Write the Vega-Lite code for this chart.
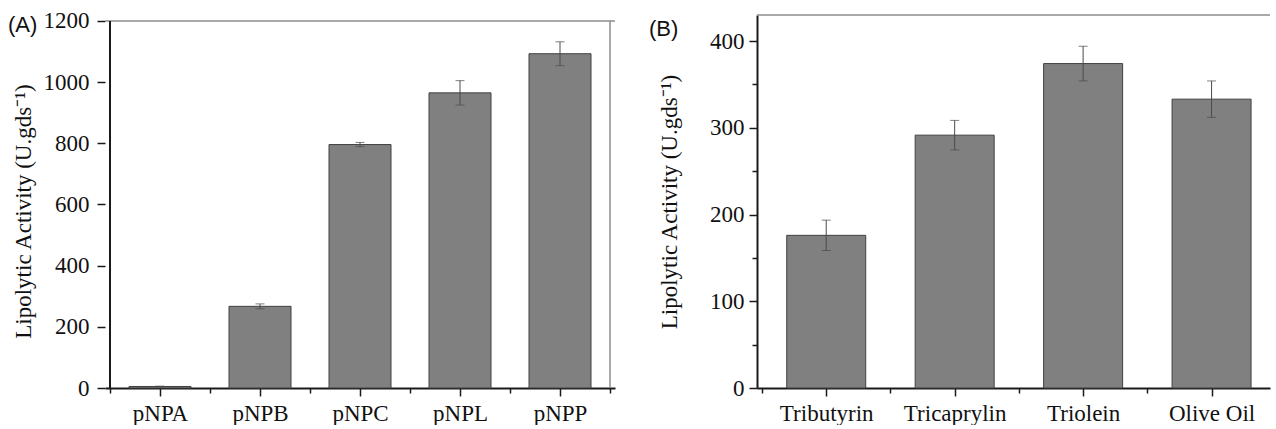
{
  "$schema": "https://vega.github.io/schema/vega-lite/v6.json",
  "background": "white",
  "padding": {"left": 8, "top": 9, "right": 0, "bottom": 0},
  "config": {
    "font": "Liberation Serif",
    "view": {"stroke": null},
    "style": {"guide-label": {"font": "Liberation Serif"}, "guide-title": {"font": "Liberation Serif"}},
    "axis": {
      "grid": false,
      "labelFont": "Liberation Serif",
      "labelFontSize": 23,
      "labelColor": "#111111",
      "titleFont": "Liberation Serif",
      "titleFontSize": 23,
      "titleFontWeight": "normal",
      "titleColor": "#111111",
      "domainColor": "#1a1a1a",
      "domainWidth": 2,
      "tickColor": "#1a1a1a",
      "tickWidth": 1.5
    }
  },
  "spacing": 142,
  "bounds": "flush",
  "hconcat": [
    {
      "width": 510,
      "height": 373,
      "title": {"text": "(A)", "anchor": "start", "frame": "group", "font": "Liberation Sans", "fontSize": 22, "fontWeight": "normal", "color": "#111111", "baseline": "middle", "offset": 0, "dx": -97, "dy": 37},
      "data": {"values": [
        {"substrate": "pNPA", "activity": 5, "err": 1},
        {"substrate": "pNPB", "activity": 267, "err": 8},
        {"substrate": "pNPC", "activity": 796, "err": 7},
        {"substrate": "pNPL", "activity": 965, "err": 40},
        {"substrate": "pNPP", "activity": 1093, "err": 39}
      ]},
      "transform": [{"window": [{"op": "row_number", "as": "idx"}]}],
      "layer": [
        {
          "mark": {"type": "bar", "orient": "vertical", "size": 62, "fill": "#808080", "stroke": "#404040", "strokeWidth": 1},
          "encoding": {
            "x": {"field": "idx", "type": "quantitative",
              "scale": {"domain": [0.5, 5.5], "nice": false, "zero": false},
              "axis": {"title": null, "values": [0.5, 1, 1.5, 2, 2.5, 3, 3.5, 4, 4.5, 5, 5.5],
                "labelExpr": "datum.value % 1 == 0 ? ['', 'pNPA', 'pNPB', 'pNPC', 'pNPL', 'pNPP'][datum.value] : ''",
                "labelFont": "Liberation Serif", "labelFontSize": 23,
                "tickSize": {"condition": {"test": "datum.value % 1 == 0", "value": 8}, "value": 5},
                "labelPadding": 6}},
            "y": {"field": "activity", "type": "quantitative", "title": "Lipolytic Activity (U.gds⁻¹)",
              "scale": {"domain": [0, 1219.6], "nice": false},
              "axis": {"domain": false,
                "values": [0, 100, 200, 300, 400, 500, 600, 700, 800, 900, 1000, 1100, 1200],
                "labelExpr": "datum.value % 200 == 0 ? datum.label : ''",
                "labelFont": "Liberation Serif", "labelFontSize": 23,
                "format": "d",
                "tickSize": {"condition": {"test": "datum.value % 200 == 0", "value": 8}, "value": 5},
                "labelPadding": 8, "titlePadding": 8, "titleY": 196}}
          }
        },
        {
          "mark": {"type": "errorbar", "color": "#4a4a4a", "ticks": {"size": 9, "color": "#4a4a4a"}},
          "encoding": {
            "x": {"field": "idx", "type": "quantitative"},
            "y": {"field": "activity", "type": "quantitative", "title": "Lipolytic Activity (U.gds⁻¹)"},
            "yError": {"field": "err"}
          }
        },
        {
          "data": {"values": [{}]},
          "mark": {"type": "rule", "color": "#8c8c8c", "strokeWidth": 1.5},
          "encoding": {"y": {"datum": 1200}}
        },
        {
          "data": {"values": [{}]},
          "mark": {"type": "rule", "color": "#8c8c8c", "strokeWidth": 1.5},
          "encoding": {"x": {"datum": 5.5}, "y": {"datum": 0}, "y2": {"datum": 1200}}
        },
        {
          "data": {"values": [{}]},
          "mark": {"type": "rule", "color": "#1a1a1a", "strokeWidth": 2},
          "encoding": {"x": {"datum": 0.5}, "y": {"datum": 0}, "y2": {"datum": 1200}}
        }
      ]
    },
    {
      "width": 513,
      "height": 373,
      "title": {"text": "(B)", "anchor": "start", "frame": "group", "font": "Liberation Sans", "fontSize": 22, "fontWeight": "normal", "color": "#111111", "baseline": "middle", "offset": 0, "dx": -108, "dy": 37},
      "data": {"values": [
        {"substrate": "Tributyrin", "activity": 176, "err": 17.5},
        {"substrate": "Tricaprylin", "activity": 291.5, "err": 17},
        {"substrate": "Triolein", "activity": 374, "err": 20},
        {"substrate": "Olive Oil", "activity": 333, "err": 21}
      ]},
      "transform": [{"window": [{"op": "row_number", "as": "idx"}]}],
      "layer": [
        {
          "mark": {"type": "bar", "orient": "vertical", "size": 79, "fill": "#808080", "stroke": "#404040", "strokeWidth": 1},
          "encoding": {
            "x": {"field": "idx", "type": "quantitative",
              "scale": {"domain": [0.5, 4.416], "nice": false, "zero": false},
              "axis": {"title": null, "values": [0.5, 1, 1.5, 2, 2.5, 3, 3.5, 4],
                "labelExpr": "datum.value % 1 == 0 ? ['', 'Tributyrin', 'Tricaprylin', 'Triolein', 'Olive Oil'][datum.value] : ''",
                "labelFont": "Liberation Serif", "labelFontSize": 23,
                "tickSize": {"condition": {"test": "datum.value % 1 == 0", "value": 8}, "value": 5},
                "labelPadding": 6}},
            "y": {"field": "activity", "type": "quantitative", "title": "Lipolytic Activity (U.gds⁻¹)",
              "scale": {"domain": [0, 430], "nice": false},
              "axis": {
                "values": [0, 50, 100, 150, 200, 250, 300, 350, 400],
                "labelExpr": "datum.value % 100 == 0 ? datum.label : ''",
                "labelFont": "Liberation Serif", "labelFontSize": 23,
                "format": "d",
                "tickSize": {"condition": {"test": "datum.value % 100 == 0", "value": 8}, "value": 5},
                "labelPadding": 5, "titlePadding": 28}}
          }
        },
        {
          "mark": {"type": "errorbar", "color": "#4a4a4a", "ticks": {"size": 9, "color": "#4a4a4a"}},
          "encoding": {
            "x": {"field": "idx", "type": "quantitative"},
            "y": {"field": "activity", "type": "quantitative", "title": "Lipolytic Activity (U.gds⁻¹)"},
            "yError": {"field": "err"}
          }
        },
        {
          "data": {"values": [{}]},
          "mark": {"type": "rule", "color": "#8c8c8c", "strokeWidth": 1.5},
          "encoding": {"y": {"datum": 430}}
        }
      ]
    }
  ]
}
